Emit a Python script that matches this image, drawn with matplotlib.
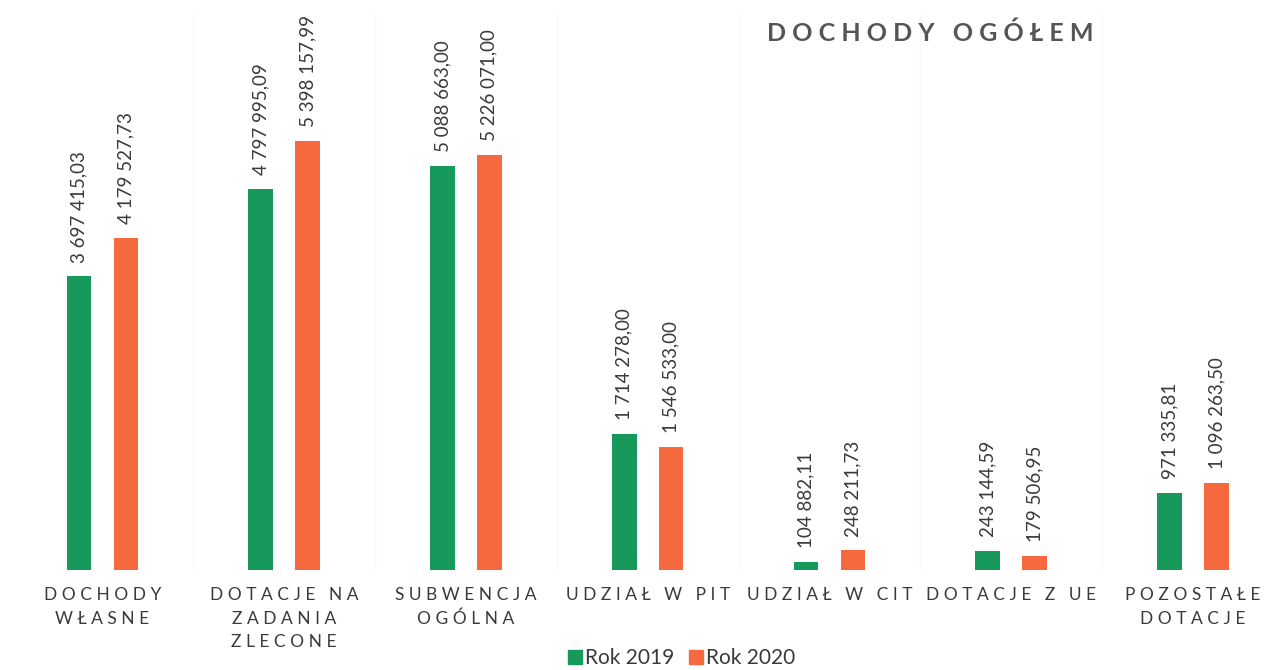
import numpy as np
import matplotlib
matplotlib.use('Agg')
import matplotlib.pyplot as plt
from matplotlib.lines import Line2D

plt.rcParams['font.family'] = ['Lato', 'DejaVu Sans']

categories = ['DOCHODY\nWŁASNE', 'DOTACJE NA\nZADANIA\nZLECONE', 'SUBWENCJA\nOGÓLNA',
              'UDZIAŁ W PIT', 'UDZIAŁ W CIT', 'DOTACJE Z UE', 'POZOSTAŁE\nDOTACJE']
rok_2019 = [3697415.03, 4797995.09, 5088663.00, 1714278.00, 104882.11, 243144.59, 971335.81]
rok_2020 = [4179527.73, 5398157.99, 5226071.00, 1546533.00, 248211.73, 179506.95, 1096263.50]

green = '#16995b'
orange = '#f6693f'
text_col = '#3a3a3a'


def spaced(s):
    # fake letter spacing
    lines = []
    for line in s.split('\n'):
        words = [' '.join(list(w)) for w in line.split(' ')]
        lines.append('   '.join(words))
    return '\n'.join(lines)


def pl_fmt(v):
    s = '{:,.2f}'.format(v)
    return s.replace(',', ' ').replace('.', ',')


fig = plt.figure(figsize=(12.8, 6.7), dpi=100)
ax = fig.add_axes([0.009, 0.149, 0.994, 0.83])

x = np.arange(len(categories))
w = 0.135
off = 0.129
b1 = ax.bar(x - off, rok_2019, w, color=green, zorder=3)
b2 = ax.bar(x + off, rok_2020, w, color=orange, zorder=3)

for bars, vals in [(b1, rok_2019), (b2, rok_2020)]:
    for b, v in zip(bars, vals):
        ax.annotate(pl_fmt(v), (b.get_x() + b.get_width() / 2, v),
                    xytext=(0, 10), textcoords='offset points',
                    rotation=90, ha='center', va='bottom',
                    fontsize=13.5, color=text_col)

for i in range(len(categories) - 1):
    ax.axvline(i + 0.5, color='#f8f8f8', lw=1, zorder=0)

ax.set_xlim(-0.5, len(categories) - 0.5)
ax.set_ylim(0, 7.0e6)
ax.set_xticks(x)
ax.set_xticklabels([spaced(c) for c in categories], fontsize=12.5,
                   color=text_col, linespacing=1.6)
ax.tick_params(axis='x', length=0, pad=12)
ax.set_yticks([])
for s in ax.spines.values():
    s.set_visible(False)

fig.text(0.727, 0.95, spaced('DOCHODY OGÓŁEM'), fontsize=18, fontweight='bold',
         color='#555555', ha='center', va='center')

handles = [Line2D([], [], marker='s', ls='', color=green, markersize=10),
           Line2D([], [], marker='s', ls='', color=orange, markersize=10)]
fig.legend(handles, ['Rok 2019', 'Rok 2020'], loc='center', bbox_to_anchor=(0.532, 0.018),
           ncol=2, frameon=False, fontsize=15, handletextpad=0.1, columnspacing=0.6,
           labelcolor=text_col, handlelength=0.8)

fig.savefig('out.png', dpi=100, facecolor='white')
